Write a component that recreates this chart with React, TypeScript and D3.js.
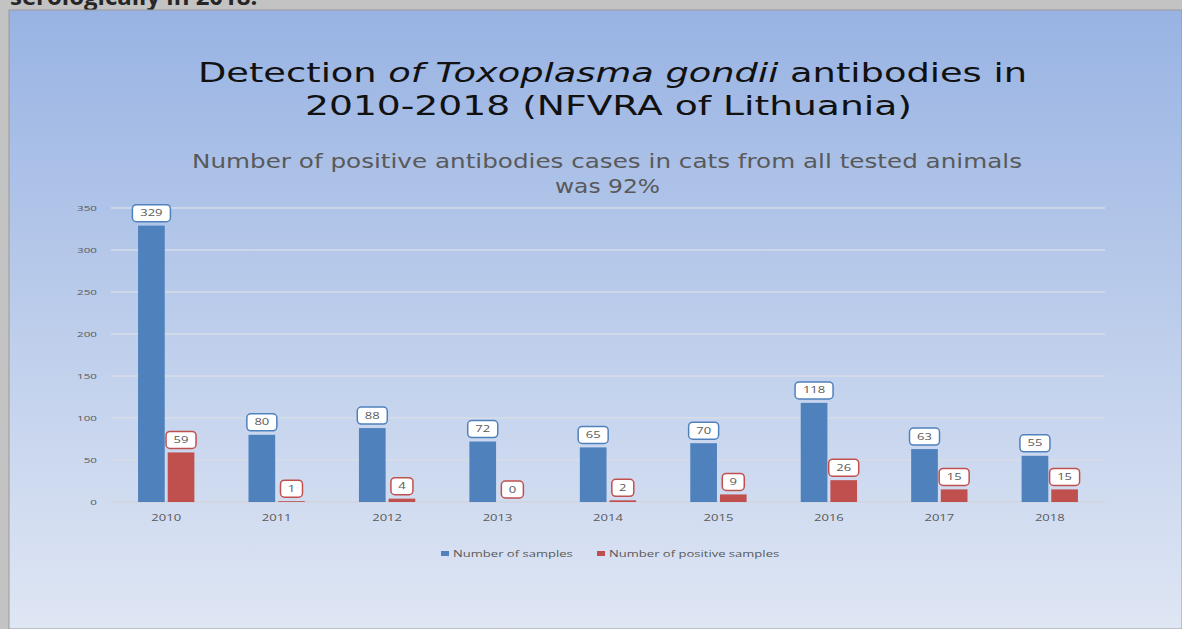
import React from "react";
import * as d3 from "d3";

const years = ["2010", "2011", "2012", "2013", "2014", "2015", "2016", "2017", "2018"];
const samples = [329, 80, 88, 72, 65, 70, 118, 63, 55];
const positives = [59, 1, 4, 0, 2, 9, 26, 15, 15];
const seriesNames = ["Number of samples", "Number of positive samples"];
const seriesColors = ["#4f81bd", "#c0504d"];
const yTicks = [0, 50, 100, 150, 200, 250, 300, 350];

const W = 1182;
const H = 629;
const gray = "#595959";
const titleFont = "'DejaVu Sans', sans-serif";
const smallFont = "'Open Sans', sans-serif";
const SX = 1.45; // obrazek je roztazeny do sirky

// maly text roztazeny vodorovne
const Wide = ({ x, y, size, anchor = "start", children }: any) => (
  <g transform={`translate(${x},${y}) scale(${SX},1)`}>
    <text x={0} y={0} textAnchor={anchor} fontFamily={smallFont} fontSize={size} fill={gray}>
      {children}
    </text>
  </g>
);

export default function App() {
  const x0 = d3.scaleBand<string>().domain(years).range([111, 1105]).paddingInner(0.49).paddingOuter(0.245);
  const x1 = d3.scaleBand<number>().domain([0, 1]).range([0, x0.bandwidth()]).paddingInner(0.1);
  const y = d3.scaleLinear().domain([0, 350]).range([502, 208]);

  const series = [samples, positives];

  return (
    <svg width={W} height={H} style={{ position: "absolute", left: 0, top: 0 }}>
      <defs>
        <linearGradient id="bg" x1="0" y1="0" x2="0" y2="1">
          <stop offset="0" stopColor="#98b3e3" />
          <stop offset="0.5" stopColor="#bccdeb" />
          <stop offset="1" stopColor="#dfe6f4" />
        </linearGradient>
      </defs>
      <rect width={W} height={H} fill="#c3c3c3" />
      <text x={10} y={5} fontFamily="'Open Sans', sans-serif" fontSize={24} fontWeight="bold" fill="#262626">
        serologically in 2018.
      </text>
      <rect x={9} y={10} width={W - 9} height={H - 10} fill="url(#bg)" stroke="#9a9a9a" strokeWidth={1} />

      {/* nadpis */}
      <text x={198} y={82} fontFamily={titleFont} fontSize={27} fill="#111" textLength={829} lengthAdjust="spacingAndGlyphs">
        Detection <tspan fontStyle="italic">of Toxoplasma gondii</tspan> antibodies in
      </text>
      <text x={305} y={115} fontFamily={titleFont} fontSize={27} fill="#111" textLength={607} lengthAdjust="spacingAndGlyphs">
        2010-2018 (NFVRA of Lithuania)
      </text>
      <text x={192} y={168} fontFamily={titleFont} fontSize={19} fill={gray} textLength={830} lengthAdjust="spacingAndGlyphs">
        Number of positive antibodies cases in cats from all tested animals
      </text>
      <text x={555} y={193} fontFamily={titleFont} fontSize={19} fill={gray} textLength={105} lengthAdjust="spacingAndGlyphs">
        was 92%
      </text>

      {/* mrizka a osa y */}
      {yTicks.map((t) => (
        <g key={t}>
          <line x1={111} x2={1105} y1={y(t)} y2={y(t)} stroke={t === 0 ? "#d0d4dc" : "#d7dce6"} strokeWidth={1.5} />
          <Wide x={97} y={y(t) + 3} size={8} anchor="end">
            {t}
          </Wide>
        </g>
      ))}

      {/* sloupce */}
      {years.map((yr, i) => (
        <g key={yr} transform={`translate(${x0(yr)},0)`}>
          {series.map((s, k) => {
            const v = s[i];
            const bx = x1(k)!;
            const bw = x1.bandwidth();
            const top = y(v);
            const label = String(v);
            const lw = label.length * 8 + 14;
            const cx = bx + bw / 2;
            return (
              <g key={k}>
                <rect x={bx} y={top} width={bw} height={y(0) - top} fill={seriesColors[k]} />
                <rect
                  x={cx - lw / 2}
                  y={top - 21}
                  width={lw}
                  height={17}
                  rx={4}
                  fill="#fff"
                  stroke={seriesColors[k]}
                  strokeWidth={1.5}
                />
                <Wide x={cx} y={top - 9.5} size={9} anchor="middle">
                  {label}
                </Wide>
              </g>
            );
          })}
          <Wide x={x0.bandwidth() / 2} y={521} size={9} anchor="middle">
            {yr}
          </Wide>
        </g>
      ))}

      {/* legenda */}
      {seriesNames.map((n, k) => {
        const lx = k === 0 ? 441 : 597;
        return (
          <g key={n}>
            <rect x={lx} y={551} width={8} height={5} fill={seriesColors[k]} />
            <Wide x={lx + 12} y={557} size={9}>
              {n}
            </Wide>
          </g>
        );
      })}
    </svg>
  );
}
